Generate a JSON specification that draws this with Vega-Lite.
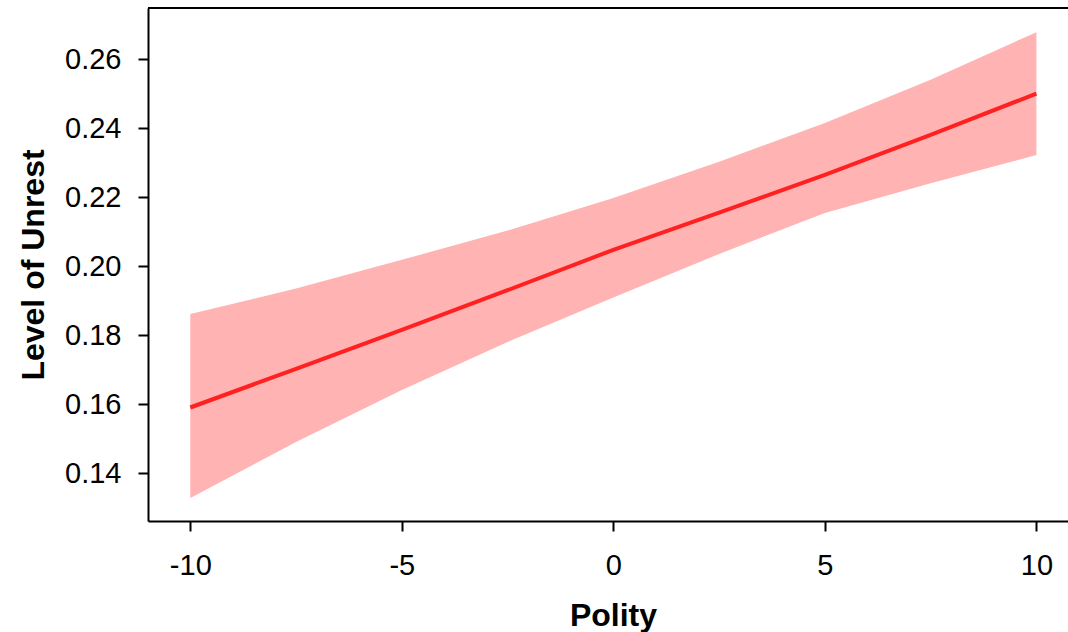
{
  "$schema": "https://vega.github.io/schema/vega-lite/v6.json",
  "autosize": "none",
  "width": 973,
  "height": 513,
  "padding": {"left": 148, "top": 8, "right": 0, "bottom": 111},
  "background": "white",
  "config": {
    "view": {"stroke": null},
    "font": "Liberation Sans",
    "axis": {
      "domain": true,
      "domainColor": "black",
      "domainWidth": 2,
      "grid": false,
      "ticks": true,
      "tickColor": "black",
      "tickWidth": 2,
      "tickSize": 10,
      "labelFont": "Liberation Sans",
      "labelFontSize": 29,
      "labelColor": "black",
      "titleFont": "Liberation Sans",
      "titleFontSize": 32,
      "titleFontWeight": "bold",
      "titleColor": "black"
    }
  },
  "data": {
    "values": [
      {"polity": -10, "fit": 0.159, "lo": 0.1328, "hi": 0.1861},
      {"polity": -7.5, "fit": 0.1702, "lo": 0.149, "hi": 0.1935},
      {"polity": -5, "fit": 0.1815, "lo": 0.1641, "hi": 0.2018},
      {"polity": -2.5, "fit": 0.193, "lo": 0.178, "hi": 0.2103},
      {"polity": 0, "fit": 0.2047, "lo": 0.1909, "hi": 0.2197},
      {"polity": 2.5, "fit": 0.2155, "lo": 0.2035, "hi": 0.2302},
      {"polity": 5, "fit": 0.2264, "lo": 0.2154, "hi": 0.2415},
      {"polity": 7.5, "fit": 0.238, "lo": 0.224, "hi": 0.254},
      {"polity": 10, "fit": 0.25, "lo": 0.2322, "hi": 0.2678}
    ]
  },
  "layer": [
    {
      "mark": {"type": "area", "color": "#FFB3B3", "opacity": 1},
      "encoding": {
        "x": {
          "field": "polity", "type": "quantitative",
          "scale": {"domain": [-11, 12], "nice": false, "zero": false},
          "axis": {"values": [-10, -5, 0, 5, 10], "labelExpr": "toString(datum.value)", "title": "Polity", "labelPadding": 20, "titlePadding": 20, "titleX": 465, "titleAnchor": "middle"}
        },
        "y": {
          "field": "lo", "type": "quantitative",
          "scale": {"domain": [0.1261, 0.2748], "nice": false, "zero": false},
          "axis": {"values": [0.14, 0.16, 0.18, 0.2, 0.22, 0.24, 0.26], "format": ".2f", "title": "Level of Unrest", "labelPadding": 17, "titlePadding": 14}
        },
        "y2": {"field": "hi"}
      }
    },
    {
      "mark": {"type": "line", "color": "#FF2020", "strokeWidth": 4},
      "encoding": {
        "x": {"field": "polity", "type": "quantitative"},
        "y": {"field": "fit", "type": "quantitative"}
      }
    },
    {
      "mark": {"type": "rule", "color": "black", "strokeWidth": 2},
      "encoding": {
        "y": {"datum": 0.2748}
      }
    }
  ]
}
